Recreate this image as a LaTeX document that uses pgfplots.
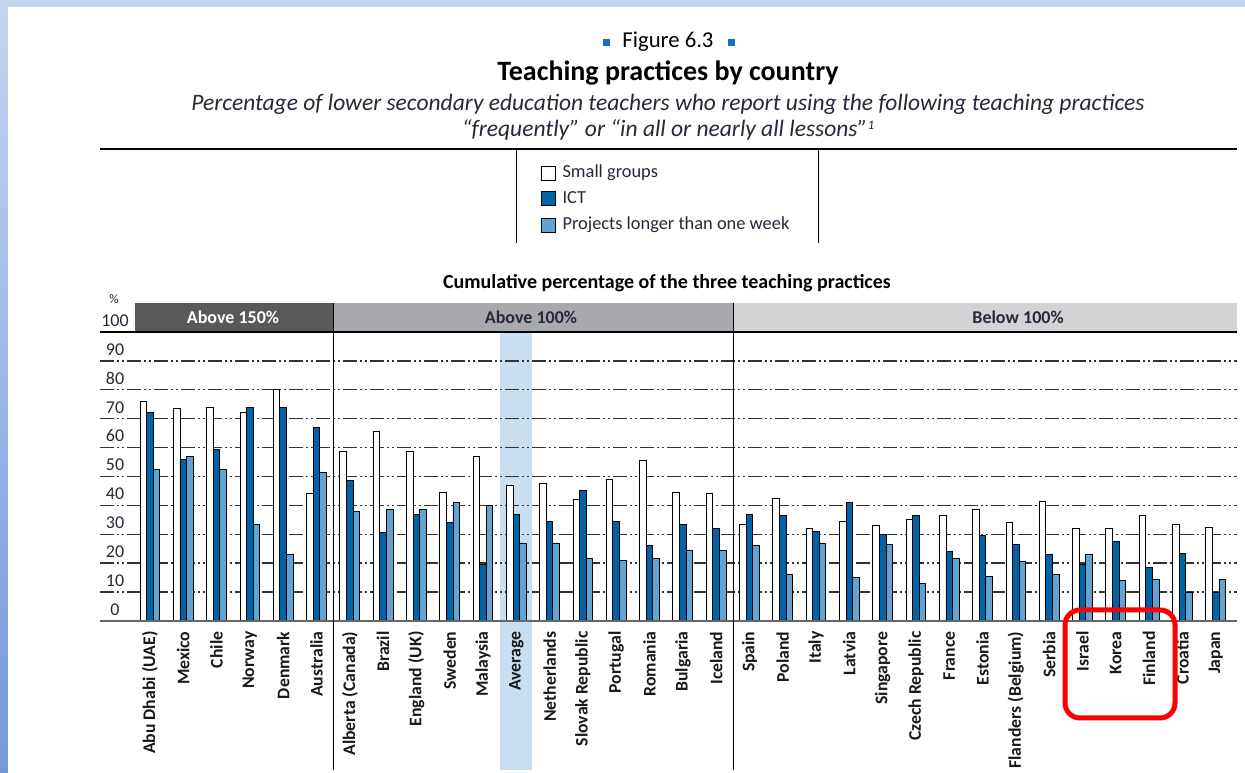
\documentclass[border=0pt]{standalone}
\usepackage{pgfplots}
\usepackage{pgfplotstable}
\pgfplotsset{compat=1.18}
\usepackage{fontspec}
\setmainfont{Carlito}
\definecolor{ict}{RGB}{0,99,168}
\definecolor{proj}{RGB}{100,162,208}
\definecolor{band}{RGB}{201,223,240}
\definecolor{hdark}{RGB}{88,89,91}
\definecolor{hmid}{RGB}{167,169,172}
\definecolor{hlight}{RGB}{209,211,212}
\definecolor{gridc}{RGB}{50,50,50}
\definecolor{slidetop}{RGB}{198,212,241}
\definecolor{slidebot}{RGB}{116,152,220}
\definecolor{fig}{RGB}{26,111,181}
\definecolor{txt}{RGB}{40,40,58}

\pgfplotstableread{
x sg ict proj
0 76 72 52.5
1 73.5 56 57
2 74 59.5 52.5
3 72 74 33.5
4 80 74 23
5 44 67 51.5
6 58.5 48.5 38
7 65.5 30.5 38.5
8 58.5 37 38.5
9 44.5 34 41
10 57 19.5 40
11 47 37 27
12 47.5 34.5 27
13 42 45 21.5
14 49 34.5 21
15 55.5 26 21.5
16 44.5 33.5 24.5
17 44 32 24.5
18 33.5 37 26
19 42.5 36.5 16
20 32 31 27
21 34.5 41 15
22 33 30 26.5
23 35 36.5 13
24 36.5 24 21.5
25 38.5 29.5 15.5
26 34 26.5 20.5
27 41.5 23 16
28 32 19.5 23
29 32 27.5 14
30 36.5 18.5 14.5
31 33.5 23.5 10
32 32.5 10 14.5
}\data

\begin{document}
\begin{tikzpicture}
\begin{scope}[x=1pt,y=1pt]
\useasboundingbox (0,0) rectangle (1245,773);
% slide frame
\fill[slidetop] (0,0) rectangle (1245,773);
\shade[top color=slidetop, bottom color=slidebot] (0,0) rectangle (8,773);
\fill[white] (8,0) rectangle (1245,766);

% titles
\fill[fig] (603,727) rectangle (610,734);
\fill[fig] (728,727) rectangle (735,734);
\node[font=\fontsize{22.7}{22.7}\selectfont] at (668,731) {Figure 6.3};
\node[font=\bfseries\fontsize{28}{28}\selectfont] at (668,700) {Teaching practices by country};
\node[font=\itshape\fontsize{23.5}{23.5}\selectfont, anchor=base, text=txt] at (668,662) {Percentage of lower secondary education teachers who report using the following teaching practices};
\node[font=\itshape\fontsize{23.5}{23.5}\selectfont, anchor=base, text=txt] at (668,636) {“frequently” or “in all or nearly all lessons”\raisebox{0.3em}{\fontsize{13}{13}\selectfont 1}};

% legend
\draw[line width=2pt] (100,624) -- (1237,624);
\draw[line width=1pt] (516,624) -- (516,530);
\draw[line width=1pt] (818,624) -- (818,530);
\draw[fill=white, line width=0.9pt] (541,593) rectangle (555,607);
\draw[fill=ict, line width=0.9pt] (541,568) rectangle (555,582);
\draw[fill=proj, line width=0.9pt] (541,541) rectangle (555,555);
\node[anchor=west, font=\fontsize{18.4}{18.4}\selectfont, text=txt] at (559,600) {Small groups};
\node[anchor=west, font=\fontsize{18.4}{18.4}\selectfont, text=txt] at (559,575) {ICT};
\node[anchor=west, font=\fontsize{18.4}{18.4}\selectfont, text=txt] at (559,548) {Projects longer than one week};

\node[font=\bfseries\fontsize{20}{20}\selectfont] at (667,490) {Cumulative percentage of the three teaching practices};

% average band and headers
\fill[band] (500,3) rectangle (532,441);
\fill[hdark] (135,441) rectangle (333,470);
\fill[hmid] (333,441) rectangle (733,470);
\fill[hlight] (733,441) rectangle (1237,470);
\node[text=white, font=\bfseries\fontsize{18}{18}\selectfont] at (233,455.5) {Above 150\%};
\node[text=txt, font=\bfseries\fontsize{18}{18}\selectfont] at (531,455.5) {Above 100\%};
\node[text=txt, font=\bfseries\fontsize{18}{18}\selectfont] at (1018,455.5) {Below 100\%};
\node[text=txt, font=\fontsize{13}{13}\selectfont] at (114,474) {\%};
\end{scope}

\begin{axis}[at={(100pt,152pt)}, anchor=south west, scale only axis,
  width=1137pt, height=289pt,
  xmin=-1.5, xmax=32.64, ymin=0, ymax=100,
  axis line style={draw=none},
  ytick={0,10,...,100}, xtick={0,...,32},
  xticklabels={Abu Dhabi (UAE),Mexico,Chile,Norway,Denmark,Australia,Alberta (Canada),Brazil,England (UK),Sweden,Malaysia,Average,Netherlands,Slovak Republic,Portugal,Romania,Bulgaria,Iceland,Spain,Poland,Italy,Latvia,Singapore,Czech Republic,France,Estonia,Flanders (Belgium),Serbia,Israel,Korea,Finland,Croatia,Japan},
  major tick length=0pt,
  ymajorgrids,
  major grid style={gridc, line width=1.4pt, dash pattern=on 14pt off 3pt on 2pt off 3pt on 2pt off 3pt},
  /pgf/number format/assume math mode=true,
  yticklabel style={anchor=south, xshift=15pt, yshift=2pt, font=\fontsize{18}{18}\selectfont, text=txt},
  xticklabel style={rotate=90, anchor=east, font=\bfseries\fontsize{17.7}{17.7}\selectfont, text=black!90},
  xticklabel shift=7pt,
  ybar=0pt, bar width=6.6pt, clip=false,
  every axis plot/.append style={draw=black, line width=0.9pt}]
\addplot[fill=white] table[x=x,y=sg]{\data};
\addplot[fill=ict] table[x=x,y=ict]{\data};
\addplot[fill=proj] table[x=x,y=proj]{\data};
\end{axis}

\begin{scope}[x=1pt,y=1pt]
\draw[line width=1.5pt] (100,441) -- (1237,441);
\draw[line width=2pt, black!60] (100,152) -- (1237,152);
\draw[line width=1pt] (333,470) -- (333,3);
\draw[line width=1pt] (733,470) -- (733,3);
\draw[red, line width=5pt, rounded corners=15pt] (1065,55) rectangle (1175,163);
\end{scope}
\end{tikzpicture}
\end{document}
